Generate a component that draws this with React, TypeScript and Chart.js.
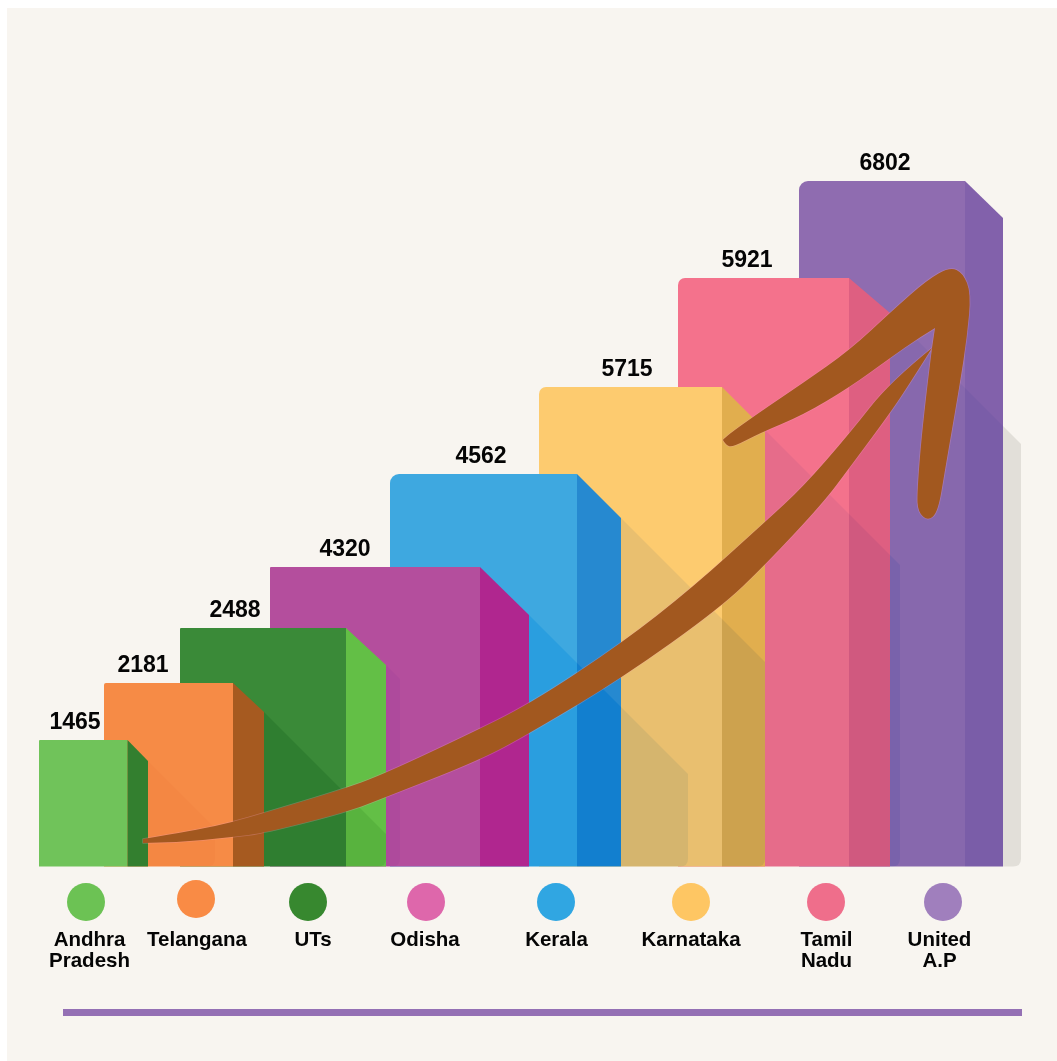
import React, { useEffect, useRef } from "react";
import { Chart, registerables } from "chart.js";

Chart.register(...registerables);

// Chart content
const states = ["Andhra Pradesh", "Telangana", "UTs", "Odisha", "Kerala", "Karnataka", "Tamil Nadu", "United A.P"];
const stateLines = [["Andhra", "Pradesh"], ["Telangana"], ["UTs"], ["Odisha"], ["Kerala"], ["Karnataka"], ["Tamil", "Nadu"], ["United", "A.P"]];
const valueLabels = ["1465", "2181", "2488", "4320", "4562", "5715", "5921", "6802"];
// The drawing's bars are not to scale with their printed numbers, so levels are read from the picture.
const barLevels = [126.5, 183.5, 238.5, 299.5, 392.5, 479.5, 588.5, 685.5];

// Horizontal extents along the x scale
const barStart = [39, 104, 180, 270, 390, 539, 678, 799];
const barEnd = [127.5, 233, 346, 480, 577, 722, 849, 965];
const sideEnd = [148, 264, 386, 529, 621, 765, 890, 1003];
const sideDrop = [21, 29, 37, 48, 44, 43, 35, 37];
const shadowEnd = [215, 386, 400, 688, 765, 900, 1021, 1003];
const cornerRadius = [1, 2, 1, 1, 9, 7, 7, 9];
const valueLabelX = [75, 143, 235, 345, 481, 627, 747, 885];
const nameLabelX = [89.5, 197, 313, 425, 556.5, 691, 826.5, 939.5];
const dotX = [86, 196, 308, 426, 556, 691, 826, 943];
const dotLevel = [-35.5, -32.5, -35.5, -35.5, -35.5, -35.5, -35.5, -35.5];

const frontColors = ["#70c35a", "#f68b46", "#3a8a38", "#b44e9d", "#3ea8e0", "#fdcb6f", "#f4728c", "#8f6cb0"];
const sideColors = ["#337f2f", "#a65a20", "#63bf46", "#b0268f", "#2689d0", "#e1ae4e", "#de5f81", "#8261ab"];
const dotColors = ["#6cc254", "#f98b45", "#37882f", "#de67ab", "#30a6e2", "#fec663", "#ef6e8b", "#a07fbd"];
// Subtracted from what lies under each bar's cast shadow
const shadowTints = ["rgb(2,4,3)", "rgb(11,12,8)", "rgb(6,4,1)", "rgb(20,10,1)", "rgb(20,12,0)", "rgb(14,6,2)", "rgb(8,4,3)", "rgb(0,0,0)"];
const groundShadowTint = "rgb(22,22,23)";

const ruleX = [63, 1022];
const ruleLevel = -146;

// Arrow outline, in scale units [x, level]; each run is smoothed, joints between runs stay sharp.
const arrowShaftUpper: number[][] = [[143, 27.5], [197, 36.5], [233, 44.5], [264, 53.5], [347, 78.5], [386, 93.5], [463, 129.5], [530, 162.5], [622, 223.5], [692, 278.5], [765, 344.5], [803, 379.5], [850, 433.5], [890, 484.5], [932, 518.5]];
const arrowBarbLower: number[][] = [[935, 538.5], [920, 529.5], [890, 508.5], [850, 479.5], [803, 451.5], [760, 433.5], [733, 419.5], [726, 421], [723, 426.5]];
const arrowHeadOuter: number[][] = [[723, 426.5], [725, 429.5], [760, 454.5], [803, 483.5], [850, 516.5], [893, 556.5], [927, 586.5], [950, 599.5], [963, 593.5], [971, 573.5], [967, 529.5], [960, 483.5], [945, 396.5], [938, 354.5], [928, 345.5], [918, 354.5], [917, 373.5], [923, 446.5], [932, 518.5]];
const arrowShaftLower: number[][] = [[932, 518.5], [910, 483.5], [890, 453.5], [850, 399.5], [823, 363.5], [765, 301.5], [720, 258.5], [622, 188.5], [530, 133.5], [480, 106.5], [386, 69.5], [347, 54.5], [264, 33.5], [233, 29.5], [173, 23.5], [143, 23.5]];

const panelColor = "#f8f5f0";
const arrowColor = "#a2581f";
const FONT = '"Liberation Sans", Arial, sans-serif';

function smoothRun(ctx: CanvasRenderingContext2D, pts: number[][]) {
  ctx.lineTo(pts[0][0], pts[0][1]);
  for (let i = 1; i < pts.length - 1; i++) {
    const mx = i === pts.length - 2 ? pts[i + 1][0] : (pts[i][0] + pts[i + 1][0]) / 2;
    const my = i === pts.length - 2 ? pts[i + 1][1] : (pts[i][1] + pts[i + 1][1]) / 2;
    ctx.quadraticCurveTo(pts[i][0], pts[i][1], mx, my);
  }
}

const infographic = {
  id: "infographic",
  beforeDraw(chart: any) {
    const { ctx, width, height } = chart;
    ctx.save();
    ctx.fillStyle = panelColor;
    ctx.fillRect(0, 0, width, height);
    ctx.restore();
  },
  beforeDatasetDraw(chart: any, args: any) {
    const i = args.index;
    if (i >= barLevels.length || shadowEnd[i] <= sideEnd[i]) return;
    const { ctx, scales, height } = chart;
    const X = (v: number) => scales.x.getPixelForValue(v);
    const Y = (v: number) => scales.y.getPixelForValue(v);
    const x0 = X(sideEnd[i]);
    const x1 = X(shadowEnd[i]);
    const y0 = Y(barLevels[i] - sideDrop[i]);
    const yb = Y(0);
    const groundX = X(sideEnd[sideEnd.length - 1]);
    const r = 8;
    const outline = () => {
      ctx.beginPath();
      ctx.moveTo(x0, y0);
      ctx.lineTo(x1, y0 + (x1 - x0));
      ctx.lineTo(x1, yb - r);
      ctx.quadraticCurveTo(x1, yb, x1 - r, yb);
      ctx.lineTo(x0, yb);
      ctx.closePath();
    };
    // On the bars
    ctx.save();
    ctx.beginPath();
    ctx.rect(0, 0, groundX, height);
    ctx.clip();
    ctx.globalCompositeOperation = "difference";
    ctx.fillStyle = shadowTints[i];
    outline();
    ctx.fill();
    ctx.restore();
    // On the bare panel
    if (x1 > groundX) {
      ctx.save();
      ctx.beginPath();
      ctx.rect(groundX, 0, x1 - groundX, height);
      ctx.clip();
      ctx.globalCompositeOperation = "difference";
      ctx.fillStyle = groundShadowTint;
      outline();
      ctx.fill();
      ctx.restore();
    }
  },
  afterDatasetDraw(chart: any, args: any) {
    const i = args.index;
    if (i >= barLevels.length) return;
    const { ctx, scales } = chart;
    const X = (v: number) => scales.x.getPixelForValue(v);
    const Y = (v: number) => scales.y.getPixelForValue(v);
    ctx.save();
    ctx.fillStyle = sideColors[i];
    ctx.beginPath();
    ctx.moveTo(X(barEnd[i]), Y(barLevels[i]));
    ctx.lineTo(X(sideEnd[i]), Y(barLevels[i] - sideDrop[i]));
    ctx.lineTo(X(sideEnd[i]), Y(0));
    ctx.lineTo(X(barEnd[i]), Y(0));
    ctx.closePath();
    ctx.fill();
    ctx.restore();
  },
  afterDatasetsDraw(chart: any) {
    const { ctx, scales } = chart;
    const X = (v: number) => scales.x.getPixelForValue(v);
    const Y = (v: number) => scales.y.getPixelForValue(v);
    const toPx = (run: number[][]) => run.map((p) => [X(p[0]), Y(p[1])]);

    // Arrow
    ctx.save();
    ctx.beginPath();
    const up = toPx(arrowShaftUpper);
    ctx.moveTo(up[0][0], up[0][1]);
    smoothRun(ctx, up);
    smoothRun(ctx, toPx(arrowBarbLower));
    smoothRun(ctx, toPx(arrowHeadOuter));
    smoothRun(ctx, toPx(arrowShaftLower));
    ctx.closePath();
    ctx.lineJoin = "round";
    ctx.lineWidth = 1.5;
    ctx.strokeStyle = "rgba(238,160,190,0.3)";
    ctx.stroke();
    ctx.fillStyle = arrowColor;
    ctx.fill();
    ctx.restore();

    // Text
    ctx.save();
    ctx.fillStyle = "#050505";
    ctx.textAlign = "center";
    ctx.textBaseline = "alphabetic";
    ctx.font = `bold 23px ${FONT}`;
    valueLabels.forEach((t, i) => {
      ctx.fillText(t, X(valueLabelX[i]), Y(barLevels[i]) - 11);
    });
    ctx.font = `bold 20.5px ${FONT}`;
    stateLines.forEach((lines, i) => {
      lines.forEach((t, k) => {
        ctx.fillText(t, X(nameLabelX[i]), Y(-79.5) + k * 21);
      });
    });
    ctx.restore();
  },
};

export default function App() {
  const ref = useRef<HTMLCanvasElement | null>(null);
  useEffect(() => {
    if (!ref.current) return;
    const barSets = states.map((name, i) => ({
      type: "bar" as const,
      label: name,
      data: [{ x: (barStart[i] + barEnd[i]) / 2, y: barLevels[i] }],
      backgroundColor: frontColors[i],
      grouped: false,
      barPercentage: 10,
      categoryPercentage: 1,
      maxBarThickness: barEnd[i] - barStart[i],
      inflateAmount: 0,
      borderRadius: { topLeft: cornerRadius[i], topRight: 0, bottomLeft: 0, bottomRight: 0 },
      borderSkipped: false,
    }));
    const chart = new Chart(ref.current, {
      type: "bar",
      data: {
        datasets: [
          ...barSets,
          {
            type: "line" as const,
            label: "Legend",
            data: dotX.map((x, i) => ({ x, y: dotLevel[i] })),
            showLine: false,
            pointRadius: 19,
            pointBorderWidth: 0,
            pointBackgroundColor: dotColors,
          },
          {
            type: "line" as const,
            label: "Rule",
            data: ruleX.map((x) => ({ x, y: ruleLevel })),
            borderColor: "#9470b4",
            borderWidth: 7,
            pointRadius: 0,
            borderCapStyle: "butt",
          },
        ] as any,
      },
      options: {
        animation: false,
        responsive: false,
        devicePixelRatio: 1,
        layout: { padding: 0, autoPadding: false },
        plugins: { legend: { display: false }, tooltip: { enabled: false } },
        scales: {
          x: { type: "linear", display: false, min: 7, max: 1057, offset: false, grid: { display: false } },
          y: { type: "linear", display: false, min: -194.5, max: 858.5, grid: { display: false } },
        },
      } as any,
      plugins: [infographic as any],
    });
    return () => chart.destroy();
  }, []);
  return (
    <div style={{ position: "absolute", left: 7, top: 8, width: 1050, height: 1053, overflow: "hidden" }}>
      <canvas ref={ref} width={1050} height={1053} style={{ display: "block" }} />
    </div>
  );
}
